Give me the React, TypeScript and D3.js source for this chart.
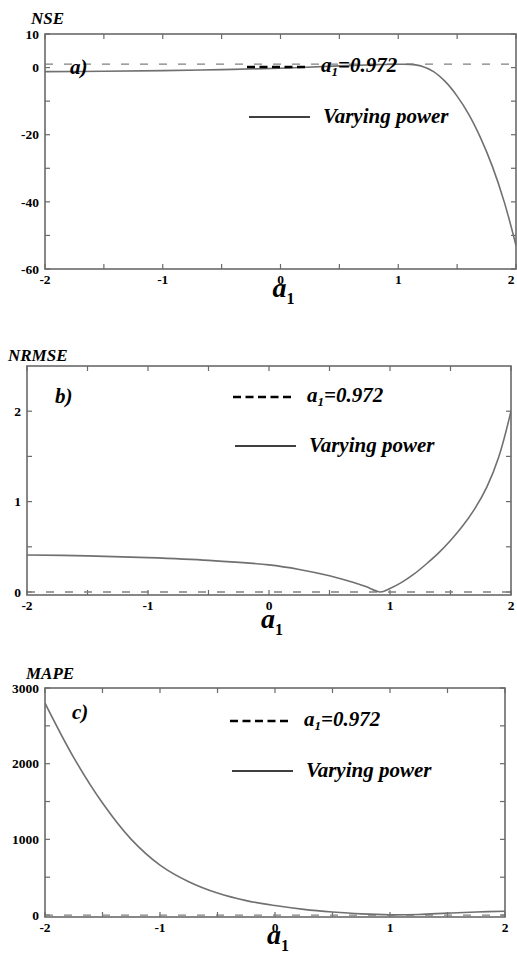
import React from 'react';
import { scaleLinear, line, curveCatmullRom } from 'd3';

// a1 grid and values
const nseX = [-2, -1.5, -1, -0.5, 0, 0.5, 0.8, 1.0, 1.1, 1.2, 1.3, 1.4, 1.5, 1.6, 1.7, 1.8, 1.9, 2.0];
const nseY = [-1.2, -1.1, -0.9, -0.6, -0.2, 0.5, 0.85, 1.0, 0.95, 0.4, -1.2, -4.2, -8.5, -14, -21, -29.5, -40, -53];

const nrmseX = [-2, -1.5, -1, -0.5, 0, 0.25, 0.5, 0.6, 0.7, 0.8, 0.92, 1.0, 1.1, 1.2, 1.3, 1.4, 1.5, 1.6, 1.7, 1.8, 1.9, 2.0];
const nrmseY = [0.41, 0.40, 0.38, 0.35, 0.30, 0.25, 0.18, 0.145, 0.105, 0.06, 0.0, 0.04, 0.11, 0.2, 0.31, 0.43, 0.57, 0.73, 0.92, 1.16, 1.5, 2.0];

const mapeX = [-2, -1.75, -1.5, -1.25, -1, -0.75, -0.5, -0.25, 0, 0.25, 0.5, 0.75, 1, 1.25, 1.5, 1.75, 2];
const mapeY = [2800, 2080, 1480, 1000, 660, 440, 290, 190, 125, 75, 40, 15, 3, 8, 25, 40, 50];

// reference value at a1 = 0.972
const nseRef = 1;
const nrmseRef = 0;
const mapeRef = 0;

const xTickLabels = [-2, -1, 0, 1, 2];
const xMinorTicks = [-1.5, -0.5, 0.5, 1.5];
const nseTickLabels = [10, 0, -20, -40, -60];
const nseMinorTicks = [-10, -30, -50];
const nrmseTickLabels = [0, 1, 2];
const nrmseMinorTicks = [0.5, 1.5];
const mapeTickLabels = [0, 1000, 2000, 3000];
const mapeMinorTicks = [500, 1500, 2500];

const FONT = 'Liberation Serif, Times New Roman, serif';
const FRAME = '#6a6a6a';
const CURVE = '#707070';

const panels = [
  {
    title: 'NSE', tag: 'a)', xs: nseX, ys: nseY, ref: nseRef,
    yDomain: [-60, 10], yLabels: nseTickLabels, yMinor: nseMinorTicks,
    left: 45, right: 516, top: 34, bottom: 269,
    titleX: 31, titleY: 24, tagX: 70, tagY: 74,
    legX: 247, legDashY: 67, legSolidY: 117, axisY: 297,
  },
  {
    title: 'NRMSE', tag: 'b)', xs: nrmseX, ys: nrmseY, ref: nrmseRef,
    yDomain: [-0.033, 2.5], yLabels: nrmseTickLabels, yMinor: nrmseMinorTicks,
    left: 27, right: 511, top: 366, bottom: 595,
    titleX: 8, titleY: 361, tagX: 55, tagY: 403,
    legX: 233, legDashY: 397, legSolidY: 446, axisY: 628,
  },
  {
    title: 'MAPE', tag: 'c)', xs: mapeX, ys: mapeY, ref: mapeRef,
    yDomain: [-26, 3000], yLabels: mapeTickLabels, yMinor: mapeMinorTicks,
    left: 45, right: 505, top: 688, bottom: 917,
    titleX: 26, titleY: 679, tagX: 72, tagY: 719,
    legX: 230, legDashY: 721, legSolidY: 771, axisY: 944,
  },
];

function Panel({ p }) {
  const x = scaleLinear().domain([-2, 2]).range([p.left, p.right]);
  const y = scaleLinear().domain(p.yDomain).range([p.bottom, p.top]);
  const pts = p.xs.map((v, i) => [v, p.ys[i]]);
  const path = line()
    .x(d => x(d[0]))
    .y(d => y(d[1]))
    .curve(curveCatmullRom.alpha(0.5))(pts);
  const tk = 5;
  const allY = [...p.yLabels, ...p.yMinor];
  const allX = [...xTickLabels, ...xMinorTicks];
  const clipId = 'clip-' + p.tag[0];

  return (
    <g>
      <defs>
        <clipPath id={clipId}>
          <rect x={p.left} y={p.top} width={p.right - p.left} height={p.bottom - p.top} />
        </clipPath>
      </defs>
      <text x={p.titleX} y={p.titleY} fontWeight="bold" fontStyle="italic" fontSize={17}>{p.title}</text>

      {/* ticks, inward on all four sides */}
      {allX.map(v => (
        <g key={'x' + v} stroke={FRAME} strokeWidth={1.2}>
          <line x1={x(v)} x2={x(v)} y1={p.bottom} y2={p.bottom - tk} />
          <line x1={x(v)} x2={x(v)} y1={p.top} y2={p.top + tk} />
        </g>
      ))}
      {allY.map(v => (
        <g key={'y' + v} stroke={FRAME} strokeWidth={1.2}>
          <line x1={p.left} x2={p.left + tk} y1={y(v)} y2={y(v)} />
          <line x1={p.right} x2={p.right - tk} y1={y(v)} y2={y(v)} />
        </g>
      ))}
      {xTickLabels.map(v => (
        <text key={'xl' + v} x={Math.min(x(v), 511)} y={p.bottom + 15} textAnchor="middle" fontWeight="bold" fontSize={13.5}>{v}</text>
      ))}
      {p.yLabels.map(v => (
        <text key={'yl' + v} x={p.left - 6} y={y(v)} dy="0.35em" textAnchor="end" fontWeight="bold" fontSize={13.5}>{v}</text>
      ))}

      {/* reference and curve */}
      <g clipPath={`url(#${clipId})`}>
        <line x1={p.left} x2={p.right} y1={y(p.ref)} y2={y(p.ref)} stroke="#808080" strokeWidth={1.3} strokeDasharray="8,11" />
        <path d={path} fill="none" stroke={CURVE} strokeWidth={1.6} />
      </g>

      <rect x={p.left} y={p.top} width={p.right - p.left} height={p.bottom - p.top} fill="none" stroke={FRAME} strokeWidth={1.6} />

      <text x={p.tagX} y={p.tagY} fontWeight="bold" fontStyle="italic" fontSize={21}>{p.tag}</text>

      {/* legend */}
      <line x1={p.legX} x2={p.legX + 58} y1={p.legDashY} y2={p.legDashY} stroke="#000" strokeWidth={2.6} strokeDasharray="8,4.5" />
      <text x={p.legX + 74} y={p.legDashY + 5} fontWeight="bold" fontStyle="italic" fontSize={21}>
        a<tspan fontSize={13} dy={4}>1</tspan><tspan dy={-4}>=0.972</tspan>
      </text>
      <line x1={p.legX + 2} x2={p.legX + 63} y1={p.legSolidY} y2={p.legSolidY} stroke="#000" strokeWidth={1.4} />
      <text x={p.legX + 76} y={p.legSolidY + 6} fontWeight="bold" fontStyle="italic" fontSize={21}>Varying power</text>

      {/* x axis title */}
      <text x={x(0) - 8} y={p.axisY} fontWeight="bold" fontSize={28}>
        <tspan fontStyle="italic">a</tspan><tspan fontSize={16} dy={7}>1</tspan>
      </text>
    </g>
  );
}

export default function App() {
  return (
    <div style={{ position: 'absolute', left: 0, top: 0 }}>
      <svg width={517} height={956} style={{ display: 'block', background: '#fff', fontFamily: FONT }}>
        {panels.map(p => <Panel key={p.tag} p={p} />)}
      </svg>
    </div>
  );
}
